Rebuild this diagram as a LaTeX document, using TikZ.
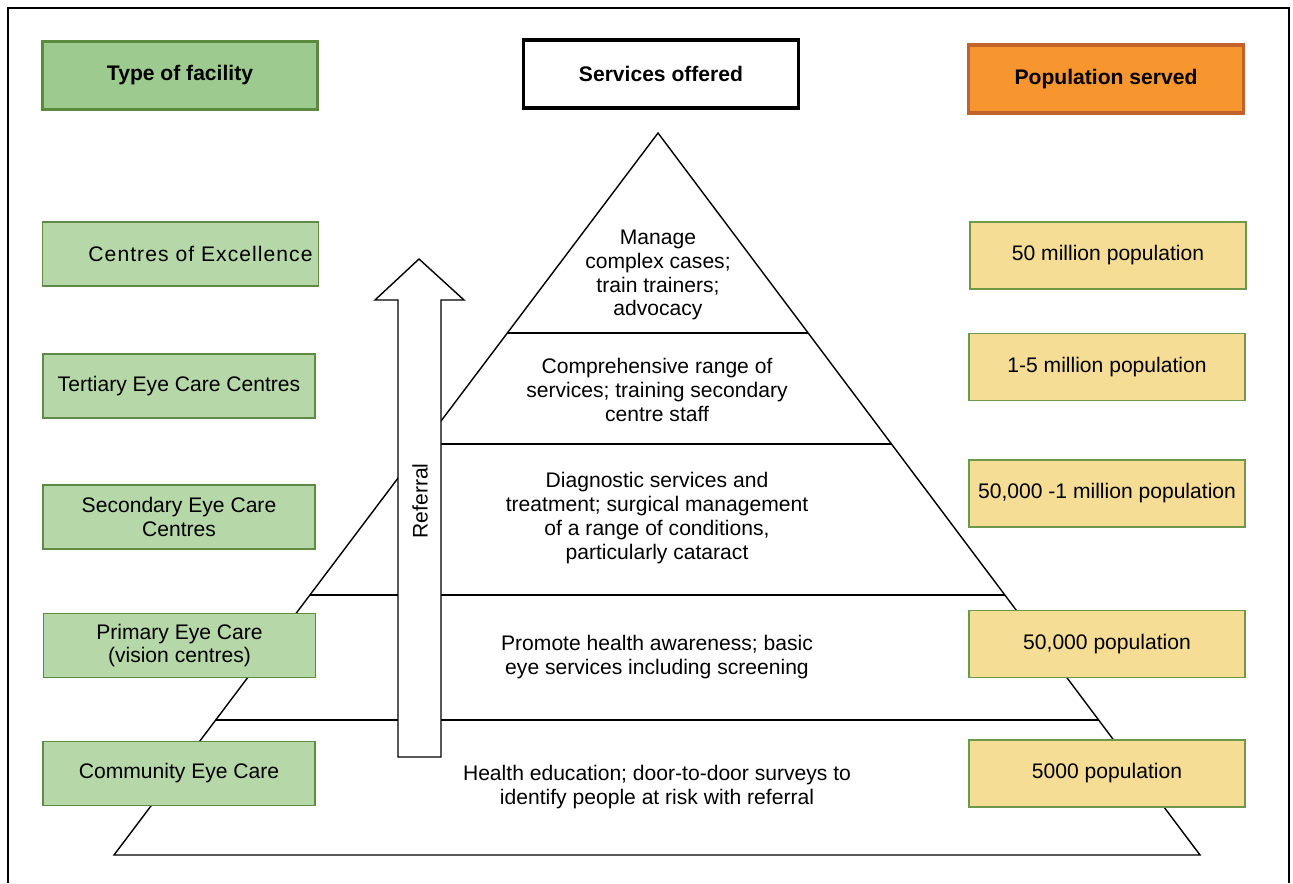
\documentclass[tikz,border=0pt]{standalone}
\usepackage{fontspec}
\setmainfont{Liberation Sans}
\usepackage{tikz}
\usetikzlibrary{calc}
\definecolor{hdrgreen}{HTML}{9CCA8F}
\definecolor{hdredge}{HTML}{5A8A3D}
\definecolor{facfill}{HTML}{B6D7A8}
\definecolor{facedge}{HTML}{5E8A45}
\definecolor{popfill}{HTML}{F5DD95}
\definecolor{popedge}{HTML}{6C9A4A}
\definecolor{hdrorange}{HTML}{F7962F}
\definecolor{orangeedge}{HTML}{C2622B}

\begin{document}
\begin{tikzpicture}
        [x=0.02cm,y=-0.02cm,font=\fontsize{12}{13.6}\selectfont]
        \tikzstyle{header}=[rectangle, line width=1.8pt, minimum width=5.5cm,
        minimum height=1.36cm, font=\fontsize{12}{13.6}\selectfont\bfseries]
        \tikzstyle{facility}=[rectangle, draw=facedge, fill=facfill, line width=0.9pt,
        minimum width=5.44cm, minimum height=1.28cm, align=center]
        \tikzstyle{served}=[rectangle, draw=popedge, fill=popfill, line width=0.9pt,
        minimum width=5.52cm, minimum height=1.34cm, align=center]
        \tikzstyle{tier}=[align=center, inner sep=0pt]
        \tikzstyle{edge}=[line width=0.8pt]
        \useasboundingbox (0,0) rectangle (1293,883);
        %-----frame
        \draw[line width=0.9pt] (8,883) -- (8,8) -- (1289,8) -- (1289,883);
        %-----pyramid
         \coordinate (top) at (658,133);
         \coordinate (bl) at (114,855);
         \coordinate (br) at (1200,855);
         \coordinate (l1) at (507,333);  \coordinate (r1) at (808,333);
         \coordinate (l2) at (424,444);  \coordinate (r2) at (891,444);
         \coordinate (l3) at (310,595);  \coordinate (r3) at (1005,595);
         \coordinate (l4) at (216,720);  \coordinate (r4) at (1099,720);
         \draw[edge] (top) -- (bl) -- (br) -- cycle;
         \foreach \from/\to in {l1/r1,l2/r2,l3/r3,l4/r4}
         \draw[edge] (\from) -- (\to);
        %-----referral arrow
         \draw[edge, fill=white] (398,757) -- (398,300) -- (375,300) -- (419,259)
              -- (464,300) -- (441,300) -- (441,757) -- cycle;
         \node[rotate=90] (ref) at (420,501) {Referral};
        %-----headers
         \node[header, draw=hdredge, fill=hdrgreen]  (hType) at (180,75.5) {Type of facility};
         \node[header, draw=black, fill=white]  (hServ) at (661,74) {Services offered};
         \node[header, draw=orangeedge, fill=hdrorange]  (hPop) at (1106,79) {Population served};
        %-----type of facility
         \node[facility]  (exc) at (180.5,254) {\hspace*{0.8cm}\addfontfeature{LetterSpace=5}Centres of Excellence};
         \node[facility]  (tert) at (179,386) {Tertiary Eye Care Centres};
         \node[facility]  (sec) at (179,517) {Secondary Eye Care\\Centres};
         \node[facility]  (prim) at (179.5,645.5) {Primary Eye Care\\(vision centres)};
         \node[facility]  (comm) at (179,773.5) {Community Eye Care};
        %-----services offered
         \node[tier]  (s1) at (658,275) {Manage\\complex cases;\\train trainers;\\advocacy};
         \node[tier]  (s2) at (657,390) {Comprehensive range of\\services; training secondary\\centre staff};
         \node[tier]  (s3) at (657,518) {Diagnostic services and\\treatment; surgical management\\of a range of conditions,\\particularly cataract};
         \node[tier]  (s4) at (657,657) {Promote health awareness; basic\\eye services including screening};
         \node[tier]  (s5) at (657,787) {Health education; door-to-door surveys to\\identify people at risk with referral};
        %-----population served
         \node[served]  (p1) at (1108,255.5) {50 million population};
         \node[served]  (p2) at (1107,367) {1-5 million population};
         \node[served]  (p3) at (1107,493.5) {50,000 -1 million population};
         \node[served]  (p4) at (1107,644) {50,000 population};
         \node[served]  (p5) at (1107,773.5) {5000 population};
        \end{tikzpicture}
\end{document}
